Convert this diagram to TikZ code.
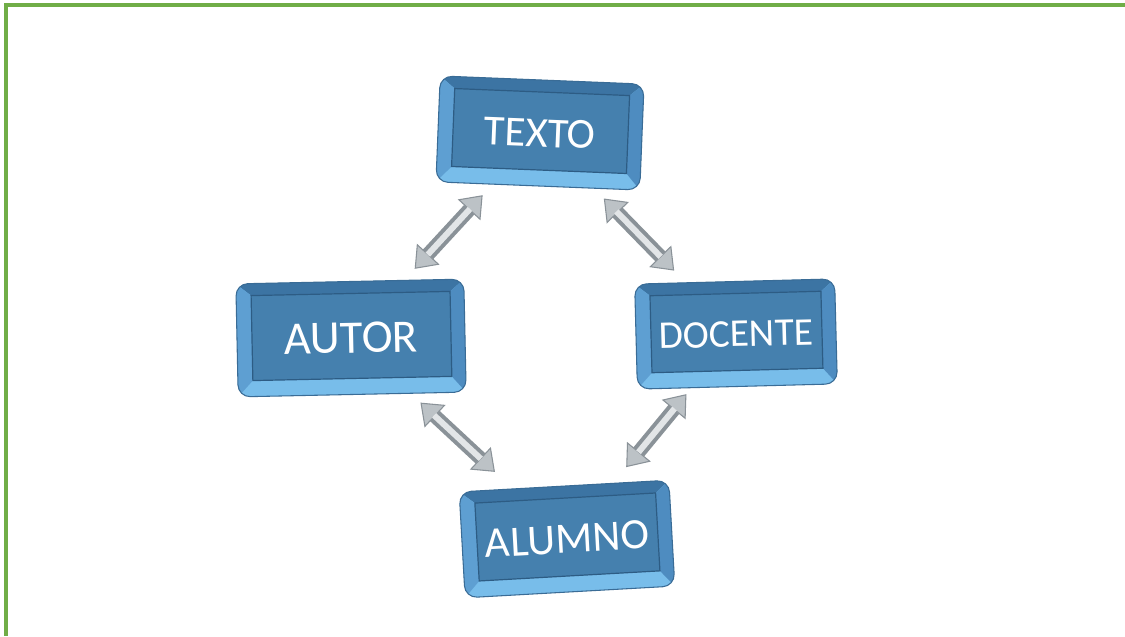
\documentclass[tikz,border=0pt]{standalone}
\usepackage{fontspec}
\setmainfont{Carlito}
\usetikzlibrary{arrows.meta,backgrounds}
\pgfdeclarelayer{bottom}
\pgfsetlayers{bottom,background,main}
\definecolor{bordergreen}{HTML}{70AD47}
\definecolor{facecol}{HTML}{4580AE}
\definecolor{faceedge}{HTML}{2D5C84}
\definecolor{bevtop}{HTML}{3C74A3}
\definecolor{bevleft}{HTML}{5E9FD2}
\definecolor{bevright}{HTML}{4E8CC0}
\definecolor{bevbot}{HTML}{78BDEA}
\definecolor{outeredge}{HTML}{3A6C96}
\definecolor{arrowdark}{HTML}{8A9298}
\definecolor{arrowmid}{HTML}{BCC2C6}
\definecolor{arrowlight}{HTML}{E2E5E7}
\tikzset{
  boxtext/.style={text=white, inner sep=0pt, draw=none},
  biarrow/.style={draw=arrowdark, line width=10.5pt,
    {Triangle[width=23pt,length=15pt,line width=0.8pt,fill=arrowmid,color=arrowdark]}-{Triangle[width=23pt,length=15pt,line width=0.8pt,fill=arrowmid,color=arrowdark]}},
  arrowshine/.style={draw=arrowlight, line width=4.5pt},
  greenline/.style={draw=bordergreen, line width=2.4pt}
}
% name, x, y, angle, w, h, fontsize(pt), text
\newcommand\bevbox[8]{%
  \node[boxtext, rotate=#4, minimum width={#5*0.75pt}, minimum height={#6*0.75pt},
        font=\fontsize{#7}{#7}\selectfont] (#1) at (#2,#3) {#8};
  \begin{scope}[on background layer, shift={(#1.center)}, rotate=#4]
    \begin{scope}
      \clip[rounded corners=9pt] (-#5/2,-#6/2) rectangle (#5/2,#6/2);
      \fill[bevbot] (-#5/2,-#6/2) rectangle (#5/2,#6/2);
      \fill[bevtop] (-#5/2,-#6/2) -- (#5/2,-#6/2) -- (#5/2-14,-#6/2+12) -- (-#5/2+15,-#6/2+12) -- cycle;
      \fill[bevleft] (-#5/2,-#6/2) -- (-#5/2+15,-#6/2+12) -- (-#5/2+15,#6/2-16) -- (-#5/2,#6/2) -- cycle;
      \fill[bevright] (#5/2,-#6/2) -- (#5/2-14,-#6/2+12) -- (#5/2-14,#6/2-16) -- (#5/2,#6/2) -- cycle;
    \end{scope}
    \draw[outeredge, line width=0.8pt, rounded corners=9pt] (-#5/2,-#6/2) rectangle (#5/2,#6/2);
    \fill[facecol, draw=faceedge, line width=0.9pt] (-#5/2+15,-#6/2+12) rectangle (#5/2-14,#6/2-16);
  \end{scope}}
\begin{document}
\begin{tikzpicture}[x=0.75pt,y=-0.75pt]
\useasboundingbox (0,0) rectangle (1125,636);
\begin{pgfonlayer}{bottom}
\fill[white] (0,0) rectangle (1125,636);
\end{pgfonlayer}
\coordinate (gtl) at (6,5);
\coordinate (gtr) at (1125,5);
\coordinate (gbl) at (6,636);
\draw[greenline] (gtr) -- (gtl) -- (gbl);

\bevbox{texto}{540}{133}{-2.3}{204}{106}{32}{TEXTO}
\bevbox{autor}{351}{338}{1.2}{228}{113}{35}{AUTOR}
\bevbox{docente}{736}{334}{1.5}{200}{105}{29.5}{DOCENTE}
\bevbox{alumno}{567}{539}{3.2}{210}{106}{32.5}{ALUMNO}

\draw[biarrow, shorten <=11pt, shorten >=11.5pt] (texto) -- (autor);
\draw[biarrow, shorten <=10.5pt, shorten >=12.5pt] (texto) -- (docente);
\draw[biarrow, shorten <=10pt, shorten >=18.5pt] (autor) -- (alumno);
\draw[biarrow, shorten <=6pt, shorten >=15.5pt] (docente) -- (alumno);

\draw[arrowshine, shorten <=25pt, shorten >=26pt] (texto) -- (autor);
\draw[arrowshine, shorten <=24pt, shorten >=27pt] (texto) -- (docente);
\draw[arrowshine, shorten <=24pt, shorten >=33pt] (autor) -- (alumno);
\draw[arrowshine, shorten <=20pt, shorten >=30pt] (docente) -- (alumno);
\end{tikzpicture}
\end{document}
